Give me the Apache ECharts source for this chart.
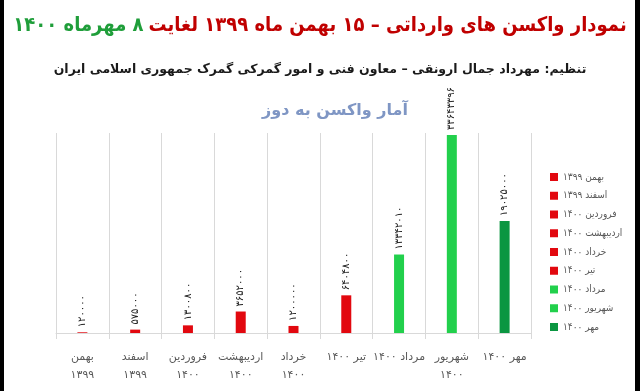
<!DOCTYPE html>
<html>
<head>
<meta charset="utf-8">
<script src="https://cdn.jsdelivr.net/npm/echarts@6/dist/echarts.min.js"></script>
<style>
html,body{margin:0;padding:0;background:#fff;}
#chart{width:640px;height:391px;direction:rtl;}
</style>
</head>
<body>
<div id="chart"></div>
<script>
// ---- data ----
var months = ['بهمن','اسفند','فروردین','اردیبهشت','خرداد','تیر','مرداد','شهریور','مهر'];
var years = ['۱۳۹۹','۱۳۹۹','۱۴۰۰','۱۴۰۰','۱۴۰۰','۱۴۰۰','۱۴۰۰','۱۴۰۰','۱۴۰۰'];
var axisLabels = ['بهمن\n۱۳۹۹','اسفند\n۱۳۹۹','فروردین\n۱۴۰۰','اردیبهشت\n۱۴۰۰','خرداد\n۱۴۰۰','تیر ۱۴۰۰','مرداد ۱۴۰۰','شهریور\n۱۴۰۰','مهر ۱۴۰۰'];
var values = [120000, 575000, 1300800, 3652000, 1200000, 6404800, 13342010, 33643396, 19025000];
var barColors = ['#e2080f','#e2080f','#e2080f','#e2080f','#e2080f','#e2080f','#22d04c','#22d04c','#0b9641'];

var titleGreen = '۸ مهرماه ۱۴۰۰';
var titleRed = 'نمودار واکسن های وارداتی – ۱۵ بهمن ماه ۱۳۹۹ لغایت';
var subTitle = 'تنظیم: مهرداد جمال ارونقی – معاون فنی و امور گمرکی گمرک جمهوری اسلامی ایران';
var chartTitle = 'آمار واکسن به دوز';

function fa(v){ return String(v).replace(/\d/g, function(d){ return '۰۱۲۳۴۵۶۷۸۹'[+d]; }); }

var FONT = '"DejaVu Sans", "Noto Sans", sans-serif';
var CFONT = '"DejaVu Sans Condensed", "DejaVu Sans", sans-serif';
var names = months.map(function(m, i){ return m + ' ' + years[i]; });

var series = names.map(function(n, i){
  return {
    name: n,
    type: 'bar',
    barWidth: 10,
    barGap: '-100%',
    itemStyle: { color: barColors[i] },
    data: values.map(function(v, j){ return j === i ? v : '-'; }),
    label: {
      show: true,
      position: 'top',
      rotate: 90,
      align: 'left',
      verticalAlign: 'middle',
      distance: 5,
      fontSize: 10,
      color: '#222',
      fontFamily: FONT,
      formatter: function(p){ return fa(p.value); }
    }
  };
});

var chart = echarts.init(document.getElementById('chart'), null, {renderer: 'canvas'});
chart.setOption({
  backgroundColor: '#fff',
  animation: false,
  title: [
    {
      text: '{g|' + titleGreen + '} {r|' + titleRed + '}',
      left: 'center', top: 11,
      textStyle: {
        rich: {
          g: { color: '#1f9e3a', fontSize: 20, fontWeight: 'bold', fontFamily: CFONT },
          r: { color: '#c00000', fontSize: 20, fontWeight: 'bold', fontFamily: CFONT }
        }
      }
    },
    {
      text: subTitle, left: 'center', top: 58,
      textStyle: { color: '#1a1a1a', fontSize: 12.5, fontWeight: 'bold', fontFamily: FONT }
    },
    {
      text: chartTitle, left: 330, textAlign: 'center', top: 98,
      textStyle: { color: '#7f96c4', fontSize: 16, fontWeight: 'bold', fontFamily: FONT }
    }
  ],
  legend: {
    orient: 'vertical',
    left: 545, top: 167,
    itemWidth: 8, itemHeight: 8, itemGap: 8.75,
    icon: 'rect',
    textStyle: { color: '#595959', fontSize: 10, fontFamily: CFONT },
    data: names
  },
  grid: { left: 56, right: 109, top: 133, bottom: 58, containLabel: false },
  xAxis: {
    type: 'category',
    data: axisLabels,
    axisLine: { lineStyle: { color: '#d9d9d9' } },
    axisTick: { show: true, length: 6, lineStyle: { color: '#d9d9d9' } },
    splitLine: { show: true, lineStyle: { color: '#d9d9d9', width: 1 } },
    axisLabel: { color: '#595959', fontSize: 11, fontFamily: FONT, lineHeight: 18, margin: 15, interval: 0 }
  },
  yAxis: {
    type: 'value', min: 0, max: 34000000, show: false,
    splitLine: { show: false }
  },
  graphic: [
    { type: 'rect', left: 0, top: 0, shape: { width: 4, height: 391 }, style: { fill: '#000' } },
    { type: 'rect', left: 635, top: 0, shape: { width: 5, height: 391 }, style: { fill: '#000' } }
  ],
  series: series
});
</script>
</body>
</html>
